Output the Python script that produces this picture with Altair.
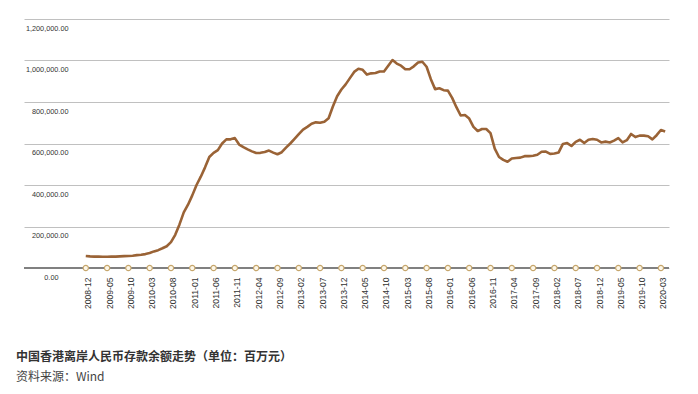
import altair as alt
import pandas as pd

# 中国香港离岸人民币存款余额（百万元），月度，自 2008-12 起
deposits = [
    58000, 56000, 55000, 55000, 54000, 54000, 55000, 55000, 56000, 57000,
    58000, 59000, 62000, 64000, 67000, 72000, 80000, 86000, 95000, 105000,
    125000, 160000, 210000, 268000, 305000, 350000, 400000, 440000, 485000, 535000,
    555000, 568000, 600000, 620000, 620000, 626000, 595000, 583000, 572000, 562000,
    554000, 555000, 559000, 566000, 556000, 548000, 558000, 580000, 600000, 622000,
    645000, 667000, 680000, 695000, 702000, 700000, 705000, 722000, 778000, 828000,
    860000, 885000, 915000, 945000, 960000, 955000, 932000, 938000, 940000, 947000,
    947000, 975000, 1002000, 985000, 975000, 958000, 958000, 972000, 990000, 994000,
    970000, 910000, 862000, 866000, 857000, 855000, 820000, 775000, 735000, 737000,
    720000, 680000, 660000, 670000, 670000, 650000, 575000, 535000, 521000, 512000,
    528000, 530000, 532000, 539000, 539000, 541000, 546000, 560000, 561000, 550000,
    552000, 557000, 598000, 602000, 588000, 608000, 618000, 602000, 618000, 622000,
    618000, 605000, 609000, 605000, 614000, 626000, 605000, 616000, 646000, 631000,
    638000, 638000, 635000, 620000, 640000, 665000, 658000,
]
months = list(pd.period_range("2008-12", periods=len(deposits), freq="M").strftime("%Y-%m"))

tick_labels = [
    "2008-12", "2009-05", "2009-10", "2010-03", "2010-08", "2011-01", "2011-06",
    "2011-11", "2012-04", "2012-09", "2013-02", "2013-07", "2013-12", "2014-05",
    "2014-10", "2015-03", "2015-08", "2016-01", "2016-06", "2016-11", "2017-04",
    "2017-09", "2018-02", "2018-07", "2018-12", "2019-05", "2019-10", "2020-03",
]
y_ticks = [0, 200000, 400000, 600000, 800000, 1000000, 1200000]

line_df = pd.DataFrame({"i": list(range(len(deposits))), "month": months, "v": deposits})
tick_idx = [months.index(t) for t in tick_labels]
tick_df = pd.DataFrame({"i": tick_idx, "v": [0] * len(tick_idx)})
base_df = pd.DataFrame({"v": [0]})

label_arr = "[" + ",".join("'%s'" % t for t in tick_labels) + "]"
label_expr = label_arr + "[round(datum.value / 5)]"

xscale = alt.Scale(domain=[-14.5, 136.9], nice=False, zero=False)
yscale = alt.Scale(domain=[0, 1200000], nice=False)

xaxis = alt.Axis(
    values=tick_idx, labelExpr=label_expr, title=None, grid=False, domain=False,
    ticks=False, labelAngle=270, labelAlign="right", labelBaseline="middle",
    labelPadding=9, labelOffset=2, labelFont="Liberation Sans", labelFontSize=8.6,
    labelColor="#333333", labelOverlap=False,
)
yaxis = alt.Axis(
    values=y_ticks, format=",.2f", title=None, grid=True, gridColor="#c0c0c0",
    gridWidth=1, domain=False, ticks=False, labelAlign="right",
    labelBaseline="middle", labelOffset=9,
    labelPadding={"condition": {"test": "datum.value === 0", "value": -34}, "value": -44},
    labelFont="Liberation Sans", labelFontSize=7.3, labelColor="#333333",
)

x_enc = alt.X("i:Q", scale=xscale, axis=xaxis)
y_enc = alt.Y("v:Q", scale=yscale, axis=yaxis)

base = alt.Chart(base_df).mark_rule(color="#808080", strokeWidth=2.2).encode(y=y_enc)
line = alt.Chart(line_df).mark_line(color="#9a6336", strokeWidth=2.6, strokeJoin="round").encode(
    x=x_enc, y=y_enc
)
dots = alt.Chart(tick_df).mark_circle(
    size=28, fill="#fdf7e8", stroke="#c6a66c", strokeWidth=1.2, opacity=1
).encode(x=x_enc, y=y_enc)

chart = alt.layer(base, line, dots).properties(
    width=645,
    height=249,
    padding={"left": 16, "top": 11, "right": 13, "bottom": 117},
    autosize=alt.AutoSizeParams(type="none"),
    title=alt.TitleParams(
        text="中国香港离岸人民币存款余额走势（单位：百万元）",
        subtitle="资料来源：Wind",
        orient="bottom", anchor="start", dx=-7, offset=43,
        font="Noto Sans CJK SC", fontSize=12, fontWeight="bold", color="#333333",
        subtitleFont="Noto Sans CJK SC", subtitleFontSize=12, subtitleColor="#444444",
        subtitlePadding=8,
    ),
).configure_view(stroke=None)

chart.save("out.html", embed_options={"renderer": "svg", "actions": False})
